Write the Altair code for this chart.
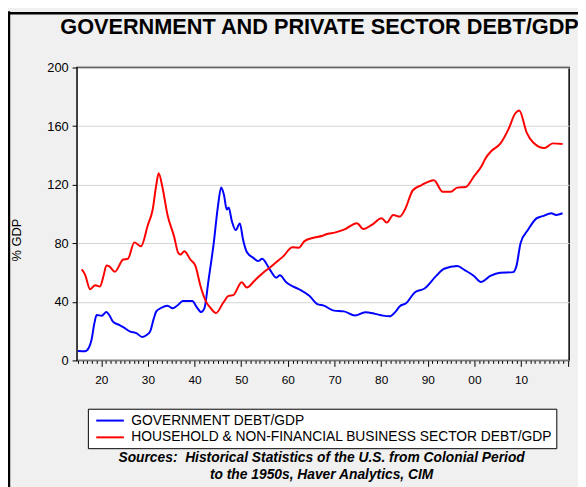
import altair as alt
import pandas as pd

TITLE = "GOVERNMENT AND PRIVATE SECTOR DEBT/GDP"
Y_TITLE = "% GDP"
SOURCE_1 = "Sources:\u00a0 Historical Statistics of the U.S. from Colonial Period"
SOURCE_2 = "to the 1950s, Haver Analytics, CIM"
SERIES = ["GOVERNMENT DEBT/GDP", "HOUSEHOLD & NON-FINANCIAL BUSINESS SECTOR DEBT/GDP"]
COLORS = ["#0000ff", "#ff0000"]

gov_years = [1915.0, 1916.5, 1917.3, 1917.9, 1918.5, 1919.0, 1920.1, 1921.1, 1921.7, 1922.5,
             1924.0, 1924.7, 1926.1, 1927.5, 1928.8, 1929.8, 1930.5, 1931.2, 1931.8, 1932.8,
             1934.2, 1935.3, 1936.3, 1937.5, 1939.5, 1940.5, 1941.4, 1942.1, 1943.0, 1944.1,
             1945.0, 1945.7, 1946.3, 1946.9, 1947.3, 1948.0, 1948.8, 1949.7, 1950.4, 1951.2,
             1952.6, 1953.6, 1954.5, 1956.1, 1957.5, 1958.3, 1959.6, 1960.5, 1962.4, 1964.6,
             1966.3, 1967.7, 1969.9, 1972.0, 1974.4, 1976.6, 1978.7, 1980.4, 1981.9, 1983.0,
             1984.0, 1985.4, 1987.2, 1989.3, 1991.8, 1993.5, 1996.3, 1998.0, 1999.9, 2001.4,
             2003.4, 2005.5, 2008.3, 2009.0, 2009.9, 2011.5, 2013.3, 2014.6, 2016.5, 2017.5,
             2018.9]
gov_values = [6.5, 6.3, 8.5, 14, 25, 31, 30.5, 33, 31, 26.5,
              24, 22.8, 19.8, 18.7, 16, 17.5, 20, 28, 33.5, 35.8,
              37.4, 35.6, 37.5, 40.5, 40.5, 36.3, 33, 35.5, 55, 80,
              105, 118, 113, 103, 104.5, 95, 89, 93.5, 82.4, 74,
              70, 67.8, 69.4, 62.2, 56.5, 58.1, 53.6, 51.5, 48.6, 44.1,
              38.5, 37.4, 34, 33.5, 30.6, 32.9, 31.8, 30.6, 30.2, 33,
              37, 39.2, 46.4, 49.1, 57.7, 62.6, 64.4, 61.5, 57.7, 53.6,
              57.7, 59.9, 60.3, 64.4, 80.2, 89.2, 97, 98.5, 100.5, 99.3,
              100.5]

pvt_years = [1915.8, 1916.5, 1917.6, 1918.7, 1919.7, 1920.5, 1921.1, 1921.8, 1922.9, 1924.7,
             1925.7, 1927.1, 1928.5, 1930.0, 1931.0, 1931.8, 1932.3, 1933.1, 1934.2, 1935.6,
             1936.5, 1937.0, 1937.8, 1939.1, 1940.2, 1941.25, 1942.4, 1943.5, 1944.6, 1946.2,
             1947.3, 1948.3, 1950.1, 1951.2, 1952.8, 1954.7, 1956.1, 1957.5, 1958.9, 1961.0,
             1962.4, 1963.5, 1965.3, 1967.4, 1968.1, 1970.2, 1972.3, 1974.8, 1976.2, 1978.0,
             1980.1, 1981.2, 1982.6, 1984.0, 1985.1, 1986.8, 1988.6, 1991.3, 1993.2, 1994.9,
             1996.3, 1998.1, 1999.9, 2001.6, 2002.3, 2003.7, 2005.5, 2007.3, 2008.7, 2009.6,
             2011.2, 2012.6, 2015.0, 2016.8, 2018.9]
pvt_values = [62.2, 58.8, 48.6, 51.4, 50.5, 58, 64.9, 64, 60.6, 68.9,
              69.4, 80.6, 77.9, 92.6, 102.7, 120, 127.9, 118.4, 99.3, 84.7,
              73.4, 72.3, 74.5, 68.9, 64.4, 51, 40.5, 35.5, 32.4, 39.7,
              44.1, 44.6, 53.4, 49.8, 54.3, 59.9, 63.3, 67.1, 70.7, 77.2,
              77, 81.3, 83.6, 85.1, 86, 87.4, 89.7, 93.7, 89.7, 92.6,
              97.1, 94.1, 99.3, 98.2, 103, 116.2, 119.6, 123, 115.1, 115.1,
              118, 118.4, 125.7, 133.1, 137.6, 143.2, 147.8, 157.9, 168.4, 170.7,
              155.6, 148.8, 145, 148.2, 147.8]

y_ticks = [0, 40, 80, 120, 160, 200]
x_tick_years = list(range(1915, 2021))

df = pd.concat([
    pd.DataFrame({"year": gov_years, "value": gov_values, "series": SERIES[0]}),
    pd.DataFrame({"year": pvt_years, "value": pvt_values, "series": SERIES[1]}),
], ignore_index=True)

FONT = "Liberation Sans"
W, H = 499, 297

lines = alt.Chart(df).mark_line(strokeWidth=2, interpolate="monotone").encode(
    x=alt.X("year:Q",
            scale=alt.Scale(domain=[1914.8, 2020.3], nice=False, zero=False),
            axis=alt.Axis(values=x_tick_years, title=None, grid=False, domain=False,
                          labelExpr="(datum.value % 10 == 0 && datum.value <= 2010) ? slice('0' + (datum.value % 100), -2) : ''",
                          tickSize={"condition": {"test": "datum.value % 10 == 0", "value": 6}, "value": 3},
                          tickColor="#000", tickWidth=1, labelOverlap=False, labelFlush=False,
                          labelFont=FONT, labelFontSize=12, labelColor="#000", labelPadding=8)),
    y=alt.Y("value:Q",
            scale=alt.Scale(domain=[0, 200], nice=False),
            axis=alt.Axis(values=y_ticks, title=None, grid=True, gridColor="#d3d3d3", gridWidth=1,
                          domain=False, tickSize=5, tickColor="#000", labelFont=FONT,
                          labelFontSize=13, labelColor="#000", labelPadding=4)),
    color=alt.Color("series:N",
                    scale=alt.Scale(domain=SERIES, range=COLORS),
                    legend=alt.Legend(title=None, orient="none", legendX=11, legendY=346,
                                      direction="vertical", fillColor="white", strokeColor="#000",
                                      padding=4, symbolType="M-0.5,0H3.5", symbolSize=196,
                                      symbolStrokeWidth=2, labelFont=FONT, labelFontSize=14,
                                      labelColor="#000", labelOffset=24, labelLimit=700,
                                      rowPadding=2)),
)

title_layer = alt.Chart(pd.DataFrame({"t": [TITLE]})).mark_text(
    align="left", baseline="alphabetic", font=FONT, fontSize=22, fontWeight="bold", color="#000"
).encode(x=alt.value(-17), y=alt.value(-34), text="t:N")

ytitle_layer = alt.Chart(pd.DataFrame({"t": [Y_TITLE]})).mark_text(
    align="center", baseline="middle", angle=270, font=FONT, fontSize=13, color="#000"
).encode(x=alt.value(-61), y=alt.value(175), text="t:N")

src1 = alt.Chart(pd.DataFrame({"t": [SOURCE_1]})).mark_text(
    align="center", baseline="middle", font=FONT, fontSize=14, fontWeight="bold",
    fontStyle="italic", color="#000"
).encode(x=alt.value(248), y=alt.value(396), text="t:N")

src2 = alt.Chart(pd.DataFrame({"t": [SOURCE_2]})).mark_text(
    align="center", baseline="middle", font=FONT, fontSize=14, fontWeight="bold",
    fontStyle="italic", color="#000"
).encode(x=alt.value(248), y=alt.value(413), text="t:N")

top_border = alt.Chart(pd.DataFrame({"t": [0]})).mark_rule(color="#000", strokeWidth=2.5).encode(
    x=alt.value(-70), x2=alt.value(510), y=alt.value(-55))
left_border = alt.Chart(pd.DataFrame({"t": [0]})).mark_rule(color="#000", strokeWidth=2.5).encode(
    x=alt.value(-69), y=alt.value(-57), y2=alt.value(430))

chart = alt.layer(lines, title_layer, ytitle_layer, src1, src2, top_border, left_border).properties(
    width=W, height=H,
    padding={"left": 70, "top": 57, "right": 9, "bottom": 125},
    autosize=alt.AutoSizeParams(type="none"),
    background="#f0f0f0",
).configure_view(fill="white", stroke="#000", strokeWidth=1.5)

chart.save("out.html", embed_options={"renderer": "svg", "actions": False})
